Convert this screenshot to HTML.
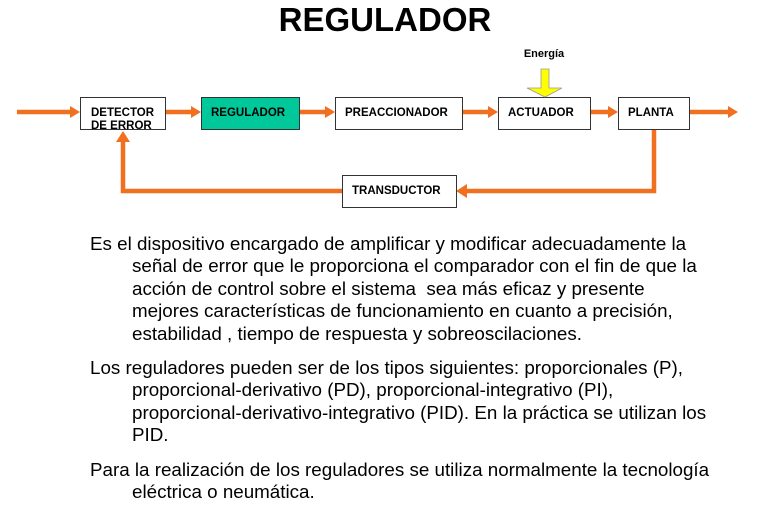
<!DOCTYPE html>
<html><head><meta charset="utf-8"><style>
body{margin:0;width:765px;height:519px;background:#fff;position:relative;overflow:hidden;font-family:"Liberation Sans",Arial,sans-serif;}
.t{position:absolute;white-space:nowrap;font-size:18.8px;color:#000;line-height:20px;}
</style></head><body>
<div style="position:absolute;left:0;width:770px;top:1px;text-align:center;font-weight:bold;font-size:33px;">REGULADOR</div>
<svg width="765" height="230" style="position:absolute;left:0;top:0" font-family="Liberation Sans, Arial, sans-serif" font-weight="bold" font-size="11.5">
<g stroke="#f07020" stroke-width="4.5" fill="none">
<line x1="17" y1="112" x2="72" y2="112"/>
<line x1="166" y1="112" x2="192" y2="112"/>
<line x1="300" y1="112" x2="326" y2="112"/>
<line x1="462" y1="112" x2="489" y2="112"/>
<line x1="590" y1="112" x2="609" y2="112"/>
<line x1="689" y1="112" x2="729" y2="112"/>
<polyline points="654,129 654,191 466,191"/>
<polyline points="342,191 123,191 123,141"/>
</g>
<g fill="#f07020">
<polygon points="70,106 80,112 70,118"/>
<polygon points="191,106 201,112 191,118"/>
<polygon points="325,106 335,112 325,118"/>
<polygon points="488,106 498,112 488,118"/>
<polygon points="608,106 618,112 608,118"/>
<polygon points="728,106 738,112 728,118"/>
<polygon points="467,184 456,191 467,198"/>
<polygon points="116,142 123,131 130,142"/>
</g>
<g stroke="#333" stroke-width="1" fill="#fff">
<rect x="80.5" y="97.5" width="85" height="32"/>
<rect x="201.5" y="97.5" width="98" height="32" fill="#00c89a"/>
<rect x="335.5" y="97.5" width="127" height="32"/>
<rect x="498.5" y="97.5" width="92" height="32"/>
<rect x="618.5" y="97.5" width="71" height="32"/>
<rect x="342.5" y="175.5" width="114" height="32"/>
</g>
<polygon points="541,69 549,69 549,88 562,88 545,97 527,88 541,88" fill="#ffff00" stroke="#999" stroke-width="0.8"/>
<text x="544" y="57" text-anchor="middle" font-size="11">Energía</text>
<text x="91" y="116">DETECTOR</text>
<text x="91" y="129">DE ERROR</text>
<text x="211" y="116">REGULADOR</text>
<text x="345" y="116">PREACCIONADOR</text>
<text x="508" y="116">ACTUADOR</text>
<text x="628" y="116">PLANTA</text>
<text x="352" y="194">TRANSDUCTOR</text>
</svg>
<div class="t" style="left:90px;top:234px">Es el dispositivo encargado de amplificar y modificar adecuadamente la</div>
<div class="t" style="left:132px;top:256px">señal de error que le proporciona el comparador con el fin de que la</div>
<div class="t" style="left:132px;top:279px">acción de control sobre el sistema&nbsp; sea más eficaz y presente</div>
<div class="t" style="left:132px;top:301px">mejores características de funcionamiento en cuanto a precisión,</div>
<div class="t" style="left:132px;top:324px">estabilidad , tiempo de respuesta y sobreoscilaciones.</div>
<div class="t" style="left:90px;top:358px">Los reguladores pueden ser de los tipos siguientes: proporcionales (P),</div>
<div class="t" style="left:132px;top:380px">proporcional-derivativo (PD), proporcional-integrativo (PI),</div>
<div class="t" style="left:132px;top:403px">proporcional-derivativo-integrativo (PID). En la práctica se utilizan los</div>
<div class="t" style="left:132px;top:425px">PID.</div>
<div class="t" style="left:90px;top:460px">Para la realización de los reguladores se utiliza normalmente la tecnología</div>
<div class="t" style="left:132px;top:482px">eléctrica o neumática.</div>
</body></html>
